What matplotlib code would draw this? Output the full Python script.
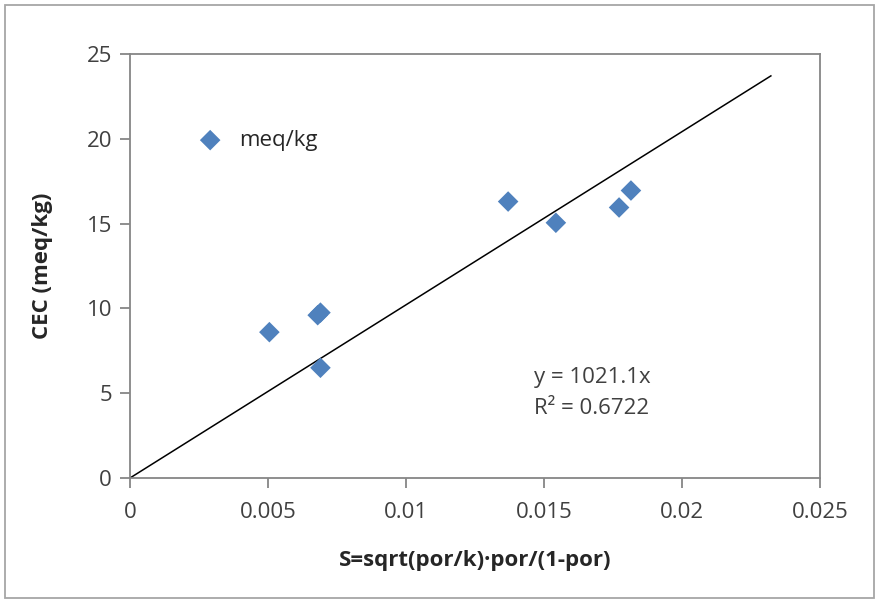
"""CEC vs S scatter with linear (through origin) trendline, Excel style."""

import matplotlib
import matplotlib.pyplot as plt
import numpy as np
from matplotlib.patches import Rectangle

matplotlib.use('Agg')

plt.rcParams['font.family'] = ['Open Sans', 'DejaVu Sans']

s_values = [0.00505, 0.00680, 0.00690, 0.00690, 0.01370, 0.01543, 0.01772, 0.01815]
cec_values = [8.6, 9.6, 9.75, 6.5, 16.3, 15.05, 15.95, 16.95]
slope = 1021.1
r_squared = 0.6722
trend_x = [0.0, 0.02322]

x_ticks = [0, 0.005, 0.01, 0.015, 0.02, 0.025]
x_tick_labels = ['0', '0.005', '0.01', '0.015', '0.02', '0.025']
y_ticks = [0, 5, 10, 15, 20, 25]

grey = '#868686'

fig = plt.figure(figsize=(8.79, 6.03), dpi=100)
ax = fig.add_axes([130 / 879, 1 - 478 / 603, 690 / 879, 424 / 603])

ax.plot(trend_x, [slope * x for x in trend_x], color='black', lw=1.1, zorder=2)
ax.scatter(s_values, cec_values, marker='D', s=110, color='#4F81BD',
           edgecolors='none', zorder=3, label='meq/kg')

ax.set_xlim(0, 0.025)
ax.set_ylim(0, 25)
ax.set_xticks(x_ticks)
ax.set_xticklabels(x_tick_labels)
ax.set_yticks(y_ticks)

for sp in ax.spines.values():
    sp.set_color(grey)
    sp.set_linewidth(1.3)
ax.tick_params(direction='out', length=7, width=1.3, color=grey,
               labelsize=16, labelcolor='#404040', pad=6)
ax.tick_params(axis='x', pad=10)

ax.set_xlabel('S=sqrt(por/k)·por/(1-por)', fontsize=16, fontweight='bold',
              color='#262626', labelpad=20)
ax.set_ylabel('CEC (meq/kg)', fontsize=16, fontweight='bold',
              color='#262626', labelpad=24)

ax.legend(loc='upper left', bbox_to_anchor=(0.055, 0.868), frameon=False,
          fontsize=16, handletextpad=0.3, markerscale=1.0, labelcolor='#262626')

ax.text(0.585, 0.2, f'y = {slope}x\nR² = {r_squared}', transform=ax.transAxes,
        fontsize=16, color='#404040', linespacing=1.6, va='center')

fig.patches.append(Rectangle((5 / 879, 5 / 603), 869 / 879, 593 / 603,
                             transform=fig.transFigure, fill=False,
                             edgecolor='#A6A6A6', lw=1.3))

fig.savefig('out.png', dpi=100)
plt.close(fig)
